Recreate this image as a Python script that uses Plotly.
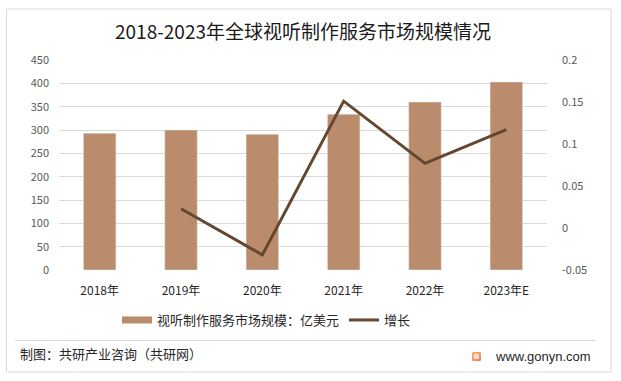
import base64
import plotly.graph_objects as go

# ---- data ----
categories = ["2018年", "2019年", "2020年", "2021年", "2022年", "2023年E"]
market_size = [293, 300, 291, 334, 360, 403]          # 亿美元
growth = [None, 0.023, -0.032, 0.151, 0.077, 0.117]
left_ticks = [0, 50, 100, 150, 200, 250, 300, 350, 400, 450]
right_ticks = [-0.05, 0, 0.05, 0.1, 0.15, 0.2]
right_tick_text = ["-0.05", "0", "0.05", "0.1", "0.15", "0.2"]

BAR_COLOR = "#BB8C6B"
LINE_COLOR = "#654630"
GRID = "#D9D9D9"
FONT = "Noto Sans CJK SC, Noto Sans, sans-serif"

W, H = 621, 381
L, R, T, B = 59, 74, 60, 111
PW, PH = W - L - R, H - T - B


def px(xp):
    return (xp - L) / PW


def py(yp):
    return (H - B - yp) / PH


fig = go.Figure()
fig.add_trace(go.Bar(x=categories, y=market_size, marker_color=BAR_COLOR,
                     width=0.4, showlegend=False, name="视听制作服务市场规模：亿美元"))
fig.add_trace(go.Scatter(x=categories, y=growth, yaxis="y2", mode="lines",
                         line=dict(color=LINE_COLOR, width=3), showlegend=False,
                         name="增长"))
# legend entries
fig.add_trace(go.Scatter(x=[None], y=[None], mode="lines",
                         line=dict(color=BAR_COLOR, width=7),
                         name="视听制作服务市场规模：亿美元"))
fig.add_trace(go.Scatter(x=[None], y=[None], mode="lines",
                         line=dict(color=LINE_COLOR, width=3), name="增长"))

logo_svg = """<svg xmlns='http://www.w3.org/2000/svg' width='20' height='20' viewBox='0 0 20 20'>
<defs><linearGradient id='g' x1='0' y1='0' x2='1' y2='1'>
<stop offset='0' stop-color='#F9B26B'/><stop offset='1' stop-color='#F47C5A'/></linearGradient></defs>
<rect x='0' y='0' width='20' height='20' rx='3' fill='url(#g)'/>
<path d='M5 5h10v3H8v4h4v-1h-2V9h5v6H5z' fill='white'/></svg>"""
logo_src = "data:image/svg+xml;base64," + base64.b64encode(logo_svg.encode()).decode()

fig.update_layout(
    width=W, height=H,
    margin=dict(l=L, r=R, t=T, b=B),
    paper_bgcolor="white", plot_bgcolor="white",
    font=dict(family=FONT, size=11, color="#595959"),
    title=dict(text="2018-2023年全球视听制作服务市场规模情况",
               font=dict(family=FONT, size=19, color="#1a1a1a"),
               x=0.5, xref="paper", xanchor="center",
               y=1 - 32 / H, yref="container", yanchor="middle"),
    bargap=0.6,
    xaxis=dict(showgrid=False, showline=False, zeroline=False,
               tickfont=dict(size=12, color="#262626"), ticklabelstandoff=12),
    yaxis=dict(range=[0, 450], tickvals=left_ticks, showgrid=True,
               gridcolor=GRID, gridwidth=1, zeroline=False, showline=False,
               tickfont=dict(size=11, color="#595959"), ticklabelstandoff=9),
    yaxis2=dict(range=[-0.05, 0.2], tickvals=right_ticks, ticktext=right_tick_text,
                overlaying="y", side="right", showgrid=False, zeroline=False,
                showline=False, tickfont=dict(size=11, color="#595959"),
                ticklabelstandoff=14),
    legend=dict(orientation="h", x=px(117), xanchor="left", y=py(320),
                yanchor="middle", font=dict(size=13, color="#262626"),
                itemwidth=30, bgcolor="rgba(0,0,0,0)"),
    shapes=[
        dict(type="rect", xref="paper", yref="paper", x0=px(6.5), x1=px(611),
             y0=py(9), y1=py(372), line=dict(color=GRID, width=1), layer="below"),
        dict(type="line", xref="paper", yref="paper", x0=px(15), x1=px(595),
             y0=py(340.5), y1=py(340.5), line=dict(color=GRID, width=1)),
    ],
    annotations=[
        dict(text="制图：共研产业咨询（共研网）", xref="paper", yref="paper",
             x=px(18), y=py(353), xanchor="left", yanchor="middle", showarrow=False,
             font=dict(size=13, color="#262626", family=FONT)),
        dict(text="www.gonyn.com", xref="paper", yref="paper",
             x=px(493), y=py(356), xanchor="left", yanchor="middle", showarrow=False,
             font=dict(size=13, color="#262626", family="Liberation Sans, Arial, sans-serif")),
    ],
    images=[dict(source=logo_src, xref="paper", yref="paper", x=px(472), y=py(352),
                 sizex=9 / PW, sizey=9 / PH, xanchor="left", yanchor="top",
                 sizing="stretch", layer="above")],
)

fig.write_html("out.html", config={"displayModeBar": False},
               post_script="document.body.style.margin='0px';document.body.style.padding='0px';")
